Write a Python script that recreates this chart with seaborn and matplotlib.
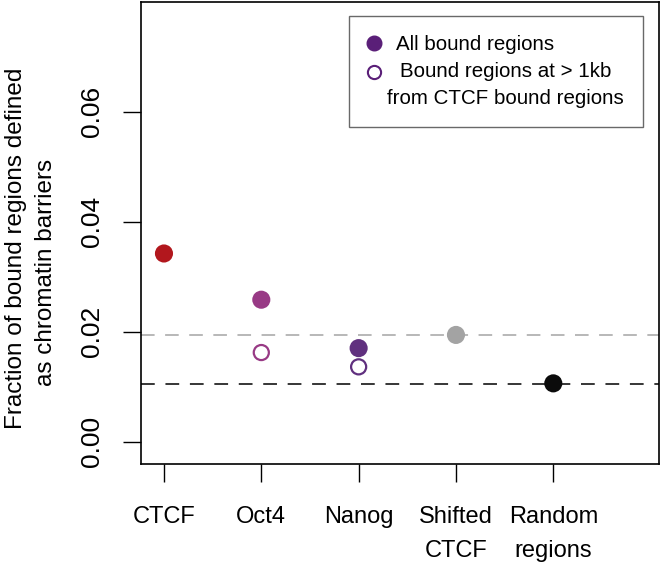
import numpy as np
import pandas as pd
import matplotlib
matplotlib.use("Agg")
import matplotlib.pyplot as plt
import seaborn as sns
from matplotlib.lines import Line2D
from matplotlib.transforms import Affine2D

# ---- data ----
categories = ["CTCF", "Oct4", "Nanog", "Shifted\nCTCF", "Random\nregions"]
all_bound = [0.0342, 0.0258, 0.0170, 0.0194, 0.0106]
far_from_ctcf = [np.nan, 0.0162, 0.0136, np.nan, np.nan]
point_colors = ["#B2171D", "#983A85", "#60307F", "#A3A3A3", "#0B0B0B"]
shifted_ctcf_level = 0.0193
random_level = 0.01055
y_ticks = [0.00, 0.02, 0.04, 0.06]
legend_labels = ["All bound regions", "Bound regions at > 1kb\nfrom CTCF bound regions"]
ylabel_lines = ["Fraction of bound regions defined", "as chromatin barriers"]

sns.set_style("ticks")
plt.rcParams["font.family"] = ["Liberation Sans", "DejaVu Sans"]
plt.rcParams.update({"text.color": "black", "axes.labelcolor": "black",
                     "xtick.color": "black", "ytick.color": "black"})

W, H = 660, 567
fig = plt.figure(figsize=(W / 100, H / 100), dpi=100)
ax = fig.add_axes([141 / W, (H - 463.7) / H, 518 / W, 461.7 / H])

# reference lines
ax.axhline(shifted_ctcf_level, color="#B8B8B8", lw=1.4, dashes=(7.0, 5.4), zorder=1)
ax.axhline(random_level, color="black", lw=1.1, dashes=(9.0, 7.0), zorder=1)

df = pd.DataFrame({"category": categories, "value": all_bound})
sns.scatterplot(data=df, x="category", y="value", hue="category",
                palette=dict(zip(categories, point_colors)), s=170,
                linewidth=0, legend=False, ax=ax, zorder=3)

df2 = pd.DataFrame({"category": categories, "value": far_from_ctcf,
                    "color": point_colors}).dropna()
ax.scatter(df2["category"], df2["value"], s=118, facecolors="white",
           edgecolors=df2["color"], linewidths=1.6, zorder=3)

ax.set_xlim(-0.236, 5.086)
ax.set_ylim(-0.0040, 0.0799)
ax.set_xlabel("")
ax.set_ylabel("")
ax.set_xticks(range(len(categories)))
ax.set_xticklabels(categories)
for lbl in ax.get_xticklabels():
    lbl.set_multialignment("center")
    lbl.set_linespacing(1.7)
ax.set_yticks(y_ticks)
ax.set_yticklabels([f"{v:.2f}" for v in y_ticks], rotation=90, va="center")

ax.tick_params(axis="x", length=13, width=1.0, pad=17.5, labelsize=17, color="black")
ax.tick_params(axis="y", length=13, width=1.0, pad=14, labelsize=19, color="black")
for s in ax.spines.values():
    s.set_visible(True)
    s.set_linewidth(1.2)
    s.set_color("black")

# y label (two lines as in the reference)
fig.text(22 / W, 1 - 248.5 / H, ylabel_lines[0], rotation=90, rotation_mode="anchor",
         ha="center", va="baseline", fontsize=17.5)
fig.text(52 / W, 1 - 272 / H, ylabel_lines[1], rotation=90, rotation_mode="anchor",
         ha="center", va="baseline", fontsize=17.5)

# legend
leg_fs = 14.8
line_sp = 1.57
handles = [
    Line2D([], [], marker="o", ls="", markerfacecolor="#5A1F78",
           markeredgecolor="#5A1F78", markersize=10.5),
    Line2D([], [], marker="o", ls="", markerfacecolor="white",
           markeredgecolor="#5A1F78", markeredgewidth=1.5, markersize=9.5),
]
leg = ax.legend(handles, legend_labels, loc="upper right",
                bbox_to_anchor=(0.969, 0.9697), borderaxespad=0, fontsize=leg_fs,
                frameon=True, fancybox=False, edgecolor="#444",
                handlelength=0.64, handletextpad=0.31, borderpad=0.92,
                labelspacing=0.37)
leg.get_frame().set_linewidth(1.0)
for t in leg.get_texts():
    t.set_multialignment("center")
    t.set_linespacing(line_sp)
t0 = leg.get_texts()[0]
t0.set_transform(t0.get_transform() + Affine2D().translate(9, 0))
h2 = leg.legend_handles[1]
h2.set_ydata(np.asarray(h2.get_ydata(), dtype=float) + 0.5 * 27.0 * 0.72)

fig.savefig("out.png", dpi=100)
